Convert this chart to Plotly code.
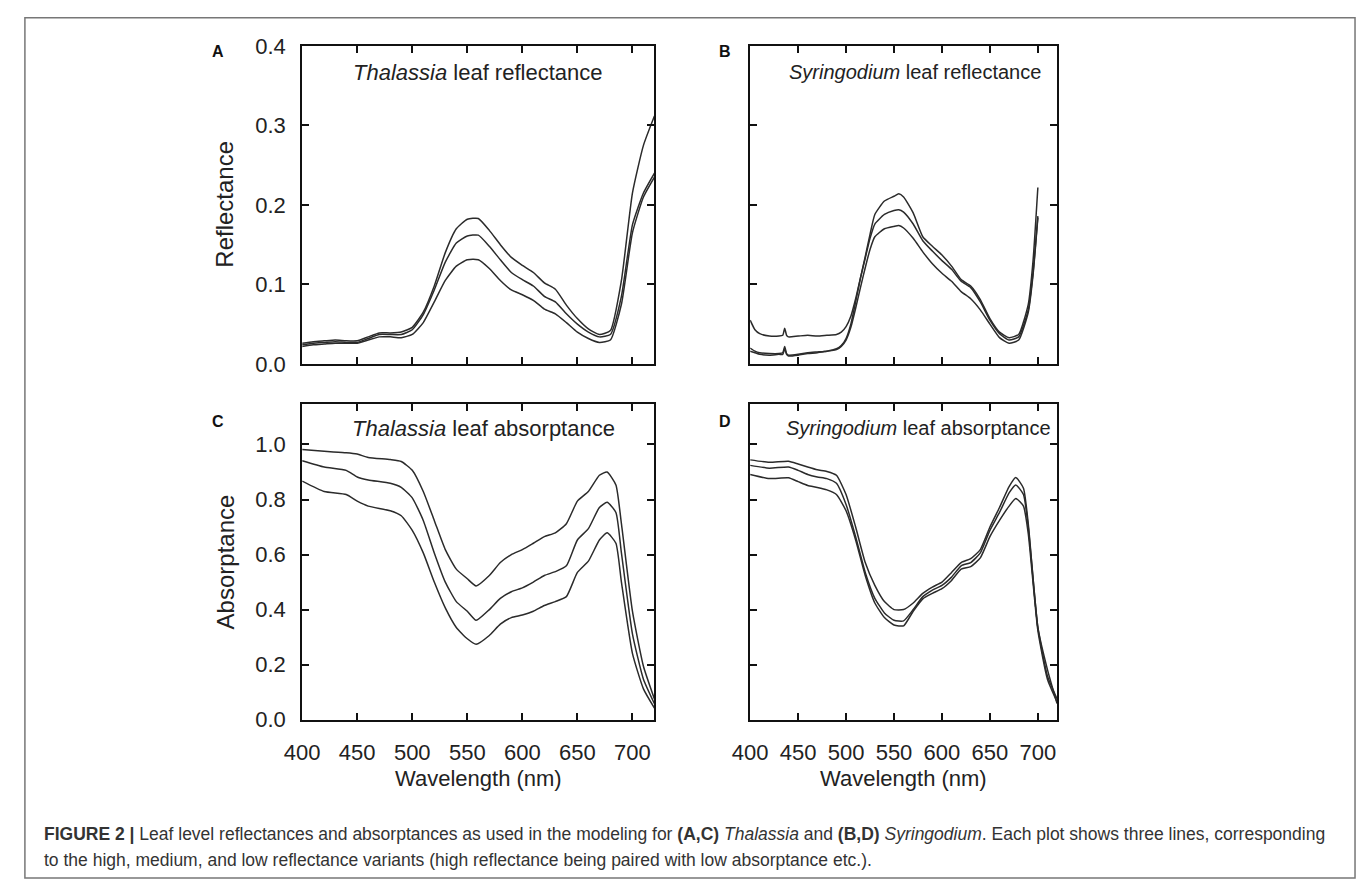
import plotly.graph_objects as go

W, H = 1357, 895

# ---------------- data ----------------
# Panel A: Thalassia leaf reflectance
wl_a = [400, 410, 420, 430, 440, 450, 460, 470, 480, 490, 500, 510, 520, 530, 540, 550, 560,
        570, 580, 590, 600, 610, 620, 630, 640, 650, 660, 670, 680, 690, 700, 710, 720]
refl_thal_high = [0.026, 0.028, 0.029, 0.030, 0.029, 0.029, 0.034, 0.039, 0.039, 0.040, 0.046,
                  0.065, 0.098, 0.140, 0.170, 0.182, 0.183, 0.168, 0.150, 0.134, 0.124, 0.115,
                  0.102, 0.094, 0.074, 0.057, 0.044, 0.037, 0.042, 0.105, 0.215, 0.275, 0.312]
refl_thal_med = [0.024, 0.026, 0.027, 0.028, 0.027, 0.027, 0.032, 0.037, 0.037, 0.037, 0.043,
                 0.062, 0.093, 0.128, 0.152, 0.161, 0.162, 0.148, 0.131, 0.115, 0.106, 0.098,
                 0.085, 0.078, 0.063, 0.050, 0.040, 0.034, 0.037, 0.085, 0.175, 0.215, 0.240]
refl_thal_low = [0.022, 0.024, 0.025, 0.026, 0.026, 0.026, 0.030, 0.034, 0.034, 0.033, 0.037,
                 0.052, 0.078, 0.105, 0.123, 0.131, 0.131, 0.120, 0.105, 0.093, 0.087, 0.080,
                 0.069, 0.063, 0.052, 0.040, 0.032, 0.027, 0.030, 0.075, 0.165, 0.210, 0.235]

# Panel B: Syringodium leaf reflectance
wl_b = [400, 405, 410, 420, 430, 434, 436, 438, 440, 450, 460, 470, 480, 490, 495, 500, 505,
        510, 515, 520, 525, 530, 540, 550, 555, 560, 570, 580, 590, 600, 610, 620, 630, 640,
        650, 660, 670, 680, 690, 695, 700]
refl_syr_1 = [0.055, 0.043, 0.038, 0.035, 0.035, 0.036, 0.045, 0.036, 0.034, 0.035, 0.036,
              0.035, 0.036, 0.037, 0.040, 0.047, 0.060, 0.082, 0.108, 0.133, 0.158, 0.176,
              0.188, 0.193, 0.194, 0.191, 0.176, 0.155, 0.142, 0.130, 0.119, 0.104, 0.096,
              0.078, 0.055, 0.038, 0.030, 0.034, 0.068, 0.115, 0.186]
refl_syr_2 = [0.020, 0.016, 0.014, 0.013, 0.013, 0.014, 0.022, 0.013, 0.011, 0.012, 0.014,
              0.015, 0.016, 0.019, 0.023, 0.032, 0.050, 0.078, 0.108, 0.135, 0.163, 0.188,
              0.205, 0.211, 0.214, 0.210, 0.190, 0.160, 0.148, 0.137, 0.123, 0.106, 0.098,
              0.081, 0.057, 0.040, 0.033, 0.037, 0.075, 0.130, 0.222]
refl_syr_3 = [0.016, 0.014, 0.012, 0.011, 0.012, 0.012, 0.019, 0.012, 0.010, 0.011, 0.013,
              0.014, 0.016, 0.018, 0.022, 0.030, 0.046, 0.070, 0.096, 0.121, 0.144, 0.160,
              0.170, 0.173, 0.174, 0.171, 0.158, 0.141, 0.126, 0.114, 0.104, 0.091, 0.082,
              0.068, 0.050, 0.033, 0.026, 0.030, 0.065, 0.112, 0.184]

# Panel C: Thalassia leaf absorptance
wl_c = [400, 420, 440, 450, 460, 480, 490, 500, 510, 520, 530, 540, 550, 558, 570, 580, 590,
        600, 610, 620, 630, 640, 650, 660, 670, 677, 685, 690, 700, 710, 720]
abs_thal_high = [0.982, 0.975, 0.970, 0.965, 0.953, 0.945, 0.938, 0.906, 0.829, 0.724, 0.618,
                 0.547, 0.512, 0.486, 0.524, 0.571, 0.600, 0.618, 0.641, 0.665, 0.679, 0.712,
                 0.794, 0.829, 0.888, 0.900, 0.853, 0.712, 0.394, 0.194, 0.075]
abs_thal_med = [0.941, 0.918, 0.906, 0.882, 0.871, 0.859, 0.844, 0.806, 0.724, 0.606, 0.500,
                0.429, 0.394, 0.361, 0.400, 0.441, 0.465, 0.479, 0.500, 0.524, 0.538, 0.559,
                0.653, 0.694, 0.771, 0.790, 0.753, 0.606, 0.312, 0.147, 0.058]
abs_thal_low = [0.867, 0.829, 0.818, 0.794, 0.776, 0.759, 0.741, 0.688, 0.606, 0.500, 0.406,
                0.335, 0.294, 0.274, 0.306, 0.347, 0.371, 0.380, 0.394, 0.415, 0.429, 0.447,
                0.535, 0.576, 0.653, 0.679, 0.641, 0.500, 0.241, 0.112, 0.042]

# Panel D: Syringodium leaf absorptance
wl_d = [400, 420, 440, 450, 460, 470, 480, 490, 500, 510, 520, 530, 540, 550, 560, 570, 580,
        590, 600, 610, 620, 630, 640, 650, 660, 670, 677, 685, 690, 700, 710, 720]
abs_syr_high = [0.944, 0.935, 0.939, 0.929, 0.918, 0.908, 0.902, 0.888, 0.818, 0.700, 0.571,
                0.488, 0.429, 0.400, 0.400, 0.424, 0.459, 0.482, 0.500, 0.535, 0.571, 0.585,
                0.618, 0.700, 0.771, 0.847, 0.880, 0.841, 0.712, 0.335, 0.182, 0.059]
abs_syr_med = [0.924, 0.914, 0.918, 0.906, 0.891, 0.882, 0.876, 0.859, 0.782, 0.665, 0.535,
               0.441, 0.388, 0.361, 0.359, 0.400, 0.447, 0.471, 0.488, 0.518, 0.559, 0.571,
               0.606, 0.688, 0.753, 0.824, 0.853, 0.818, 0.700, 0.335, 0.159, 0.076]
abs_syr_low = [0.891, 0.876, 0.879, 0.865, 0.851, 0.844, 0.835, 0.818, 0.759, 0.653, 0.524,
               0.424, 0.371, 0.344, 0.341, 0.394, 0.439, 0.459, 0.476, 0.506, 0.547, 0.556,
               0.588, 0.665, 0.724, 0.776, 0.804, 0.776, 0.676, 0.324, 0.147, 0.065]

x_ticks = [400, 450, 500, 550, 600, 650, 700]
refl_ticks = [0.0, 0.1, 0.2, 0.3, 0.4]
abs_ticks = [0.0, 0.2, 0.4, 0.6, 0.8, 1.0]

# ---------------- figure ----------------
FONT = "Liberation Sans, Arial, Helvetica, sans-serif"
LINE = dict(color="#2b2b2b", width=1.5, shape="spline", smoothing=0.5)

fig = go.Figure()
panels = [
    (wl_a, [refl_thal_high, refl_thal_med, refl_thal_low], "x", "y"),
    (wl_b, [refl_syr_1, refl_syr_2, refl_syr_3], "x2", "y2"),
    (wl_c, [abs_thal_high, abs_thal_med, abs_thal_low], "x3", "y3"),
    (wl_d, [abs_syr_high, abs_syr_med, abs_syr_low], "x4", "y4"),
]
for wl, series, xa, ya in panels:
    for s in series:
        fig.add_trace(go.Scatter(x=wl, y=s, mode="lines", line=LINE, xaxis=xa, yaxis=ya,
                                 showlegend=False, hoverinfo="skip"))


def px_x(p):
    return p / W


def px_y(p):
    return 1 - p / H


dom_ac = [px_x(288), px_x(645)]
dom_bd = [px_x(742), px_x(1053)]
dom_top = [px_y(362), px_y(35)]
dom_bot = [px_y(728), px_y(403)]

tickfont = dict(family=FONT, size=22, color="#222")
common = dict(showline=True, linecolor="#111", linewidth=2, mirror="ticks", ticks="inside",
              ticklen=7, tickwidth=1.5, tickcolor="#111", showgrid=False, zeroline=False,
              tickfont=tickfont)


def xax(domain, anchor, labels):
    return dict(common, domain=domain, anchor=anchor, range=[400, 720], tickvals=x_ticks,
                showticklabels=labels, ticklabelstandoff=12)


def yax(domain, anchor, rng, ticks, labels):
    return dict(common, domain=domain, anchor=anchor, range=rng, tickvals=ticks,
                tickformat=".1f", showticklabels=labels, ticklabelstandoff=10)


fig.update_layout(
    width=W, height=H, margin=dict(l=0, r=0, t=0, b=0),
    paper_bgcolor="white", plot_bgcolor="white",
    font=dict(family=FONT, color="#222"),
    xaxis=xax(dom_ac, "y", False),
    yaxis=yax(dom_top, "x", [0, 0.4], refl_ticks, True),
    xaxis2=xax(dom_bd, "y2", False),
    yaxis2=yax(dom_top, "x2", [0, 0.4], refl_ticks, False),
    xaxis3=xax(dom_ac, "y3", True),
    yaxis3=yax(dom_bot, "x3", [0, 1.148], abs_ticks, True),
    xaxis4=xax(dom_bd, "y4", True),
    yaxis4=yax(dom_bot, "x4", [0, 1.148], abs_ticks, False),
)

ann = []


def text(s, x, y, size, bold=False, angle=0, xanchor="center", color="#222"):
    ann.append(dict(text=s, x=px_x(x), y=px_y(y), xref="paper", yref="paper",
                    showarrow=False, xanchor=xanchor, yanchor="middle", textangle=angle,
                    font=dict(family=FONT, size=size, color=color)))


# panel titles
text("<i>Thalassia</i> leaf reflectance", 466, 62, 22)
text("<i>Syringodium</i> leaf reflectance", 909, 62, 20)
text("<i>Thalassia</i> leaf absorptance", 472, 428, 22)
text("<i>Syringodium</i> leaf absorptance", 913, 428, 20)
# panel letters
for letter, x, y in [("A", 203, 41), ("B", 716, 41), ("C", 203, 421), ("D", 716, 421)]:
    text("<b>" + letter + "</b>", x, y, 16, color="#111")
# axis titles
text("Reflectance", 209, 198, 24, angle=-90)
text("Absorptance", 210, 566, 24, angle=-90)
text("Wavelength (nm)", 467, 789, 22)
text("Wavelength (nm)", 897, 789, 22)
# caption
cap1 = ("<b>FIGURE 2 |</b> Leaf level reflectances and absorptances as used in the modeling for "
        "<b>(A,C)</b> <i>Thalassia</i> and <b>(B,D)</b> <i>Syringodium</i>. Each plot shows three "
        "lines, corresponding")
cap2 = ("to the high, medium, and low reflectance variants (high reflectance being paired with "
        "low absorptance etc.).")
text(cap1, 24, 846, 17.5, xanchor="left", color="#333")
text(cap2, 24, 872, 17.5, xanchor="left", color="#333")

fig.update_layout(annotations=ann)

# outer frame
fig.add_shape(type="rect", xref="paper", yref="paper", x0=px_x(7), x1=px_x(1355),
              y0=px_y(891), y1=px_y(6), line=dict(color="#777", width=1.5))

fig.write_html("out.html")
